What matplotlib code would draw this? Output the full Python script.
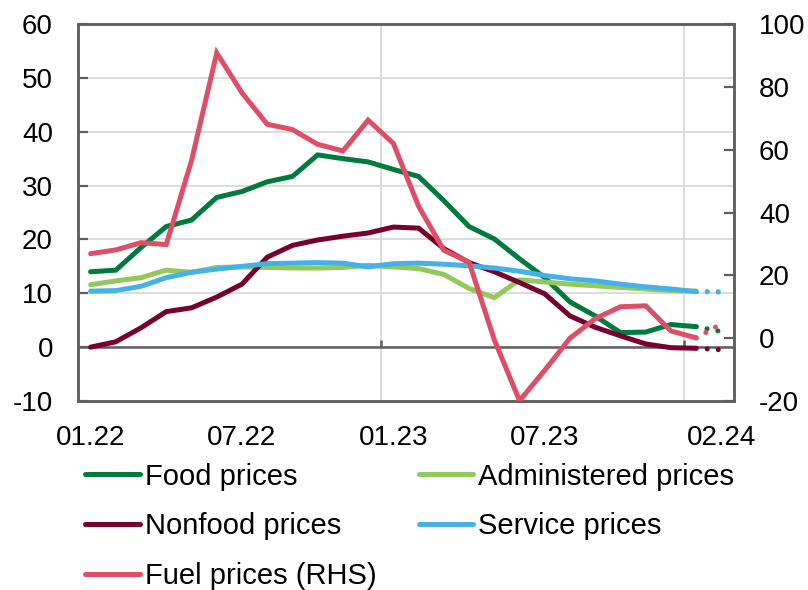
import matplotlib
matplotlib.use("Agg")
import matplotlib.pyplot as plt
import numpy as np

# monthly data, 01.22 - 02.24 (last point is the dotted estimate)
months = ['01.22', '02.22', '03.22', '04.22', '05.22', '06.22', '07.22', '08.22', '09.22',
          '10.22', '11.22', '12.22', '01.23', '02.23', '03.23', '04.23', '05.23', '06.23',
          '07.23', '08.23', '09.23', '10.23', '11.23', '12.23', '01.24', '02.24']
food = [14.0, 14.3, 18.5, 22.4, 23.6, 27.8, 28.9, 30.7, 31.7, 35.7, 35.0, 34.4, 33.0,
        31.7, 27.2, 22.4, 20.1, 16.4, 12.9, 8.4, 5.8, 2.7, 2.8, 4.2, 3.8, 2.9]
administered = [11.6, 12.3, 12.9, 14.3, 13.9, 14.8, 14.9, 14.8, 14.7, 14.7, 14.8, 15.2, 14.9,
                14.6, 13.5, 10.9, 9.2, 12.5, 12.1, 11.7, 11.4, 11.1, 10.8, 10.5, 10.4, 10.3]
nonfood = [0.0, 1.0, 3.6, 6.6, 7.3, 9.3, 11.7, 16.7, 18.9, 19.9, 20.6, 21.2, 22.3,
           22.1, 18.3, 15.7, 14.0, 12.0, 9.9, 5.8, 3.7, 2.1, 0.6, -0.1, -0.2, -0.5]
service = [10.4, 10.5, 11.3, 12.9, 13.9, 14.5, 15.0, 15.5, 15.6, 15.7, 15.6, 14.9, 15.5,
           15.6, 15.4, 15.1, 14.7, 14.1, 13.3, 12.7, 12.3, 11.7, 11.2, 10.8, 10.3, 10.2]
fuel = [26.9, 28.1, 30.4, 29.8, 56.5, 90.8, 78.1, 68.1, 66.4, 61.7, 59.6, 69.4, 62.0,
        42.0, 28.0, 24.2, -0.5, -19.9, -10.2, 0.0, 6.2, 10.0, 10.3, 2.3, 0.1, 4.6]

tick_idx = [0, 6, 12, 18, 25]
tick_labels = [months[i] for i in tick_idx]

c_food = '#007A3D'
c_admin = '#92C85C'
c_nonfood = '#78002E'
c_service = '#46B1E6'
c_fuel = '#DE4E67'
c_axis = '#5F5F5F'
c_grid = '#D9D9D9'

plt.rcParams['font.family'] = ['Liberation Sans', 'DejaVu Sans']
plt.rcParams['axes.unicode_minus'] = False

fig = plt.figure(figsize=(8.08, 5.90), dpi=100)
ax = fig.add_axes([0.0965, 0.3203, 0.8119, 0.639])
ax2 = ax.twinx()

x = np.arange(len(months))
lw = 3.6
n = len(months) - 1  # solid part ends at 01.24

series = [(food, c_food, 'Food prices', ax),
          (administered, c_admin, 'Administered prices', ax),
          (nonfood, c_nonfood, 'Nonfood prices', ax),
          (service, c_service, 'Service prices', ax),
          (fuel, c_fuel, 'Fuel prices (RHS)', ax2)]

handles = {}
for vals, col, lab, a in series:
    h, = a.plot(x[:n], vals[:n], color=col, lw=lw, solid_capstyle='round',
                solid_joinstyle='miter', label=lab, zorder=3)
    a.plot(x[n - 1:], vals[n - 1:], color=col, lw=lw, linestyle=(0, (0.01, 2.2)),
           dash_capstyle='round', zorder=3)
    handles[lab] = h

ax.set_xlim(-0.5, 25.5)
ax.set_ylim(-10, 60)
ax2.set_ylim(-20, 100)
ax.set_yticks(np.arange(-10, 61, 10))
ax2.set_yticks(np.arange(-20, 101, 20))

ax.set_xticks(tick_idx)
ax.set_xticklabels(tick_labels)
ax.set_xticks([11.5, 23.5], minor=True)
ax.tick_params(axis='x', which='major', length=0, pad=17, labelsize=20)
ax.tick_params(axis='x', which='minor', length=0)
ax.tick_params(axis='y', direction='in', length=7, width=1.6, color=c_axis,
               labelsize=20, pad=18)
ax2.tick_params(axis='y', direction='in', length=7, width=1.6, color=c_axis,
                labelsize=20, pad=18)

# gridlines: horizontal on left axis, vertical between categories
for v in range(0, 60, 10):
    ax.axhline(v, color=c_grid, lw=1.3, zorder=1)
for v in [11.5, 23.5]:
    ax.axvline(v, color=c_grid, lw=1.3, zorder=1)
ax.axhline(0, color=c_axis, lw=1.8, zorder=2)
ax.vlines([11.5, 23.5], 0, 1.3, color=c_axis, lw=1.8, zorder=2)

for a in (ax, ax2):
    for s in a.spines.values():
        s.set_color(c_axis)
        s.set_linewidth(1.8)

order = ['Food prices', 'Nonfood prices', 'Fuel prices (RHS)',
         'Administered prices', 'Service prices']
leg = fig.legend([handles[k] for k in order], order, ncol=2, loc='upper left',
                 bbox_to_anchor=(0.105, 0.216), frameon=False, fontsize=21,
                 handlelength=1.88, handletextpad=0.17, columnspacing=1.45,
                 labelspacing=0.74, borderpad=0, borderaxespad=0)

fig.savefig('out.png', dpi=100)
